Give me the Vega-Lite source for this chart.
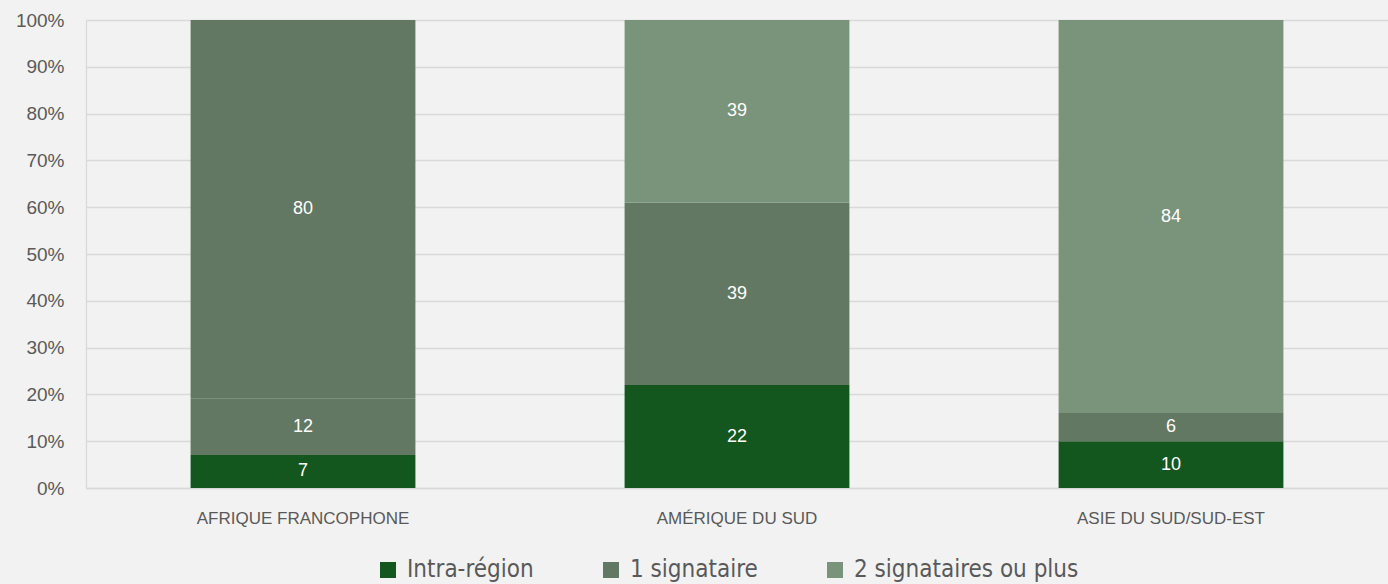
{
  "$schema": "https://vega.github.io/schema/vega-lite/v6.json",
  "width": 1302,
  "height": 468,
  "autosize": {"type": "none"},
  "padding": {"left": 86, "top": 20, "right": 0, "bottom": 96},
  "background": "#F2F2F2",
  "config": {
    "view": {"stroke": null},
    "font": "Liberation Sans",
    "axis": {"labelFont": "Liberation Sans", "labelColor": "#595959", "domainColor": "#D9D9D9", "gridColor": "#D9D9D9", "gridWidth": 1.3, "domainWidth": 1.3, "ticks": false, "tickSize": 0, "labelLimit": 0},
    "axisY": {"labelFontSize": 19, "labelPadding": 22, "grid": true},
    "axisX": {"labelFontSize": 17, "labelPadding": 22, "labelAngle": 0, "grid": false}
  },
  "data": {"values": [
    {"region": "AFRIQUE FRANCOPHONE", "serie": "Intra-région", "nombre": 7},
    {"region": "AFRIQUE FRANCOPHONE", "serie": "1 signataire", "nombre": 12},
    {"region": "AFRIQUE FRANCOPHONE", "serie": "2 signataires ou plus", "nombre": 80},
    {"region": "AMÉRIQUE DU SUD", "serie": "Intra-région", "nombre": 22},
    {"region": "AMÉRIQUE DU SUD", "serie": "1 signataire", "nombre": 39},
    {"region": "AMÉRIQUE DU SUD", "serie": "2 signataires ou plus", "nombre": 39},
    {"region": "ASIE DU SUD/SUD-EST", "serie": "Intra-région", "nombre": 10},
    {"region": "ASIE DU SUD/SUD-EST", "serie": "1 signataire", "nombre": 6},
    {"region": "ASIE DU SUD/SUD-EST", "serie": "2 signataires ou plus", "nombre": 84}
  ]},
  "transform": [
    {"calculate": "indexof(['Intra-région','1 signataire','2 signataires ou plus'], datum.serie)", "as": "rang"},
    {"stack": "nombre", "groupby": ["region"], "sort": [{"field": "rang", "order": "ascending"}], "offset": "normalize", "as": ["y0", "y1"]},
    {"calculate": "(datum.y0 + datum.y1) / 2", "as": "ymid"}
  ],
  "encoding": {
    "x": {
      "field": "region", "type": "nominal",
      "sort": ["AFRIQUE FRANCOPHONE", "AMÉRIQUE DU SUD", "ASIE DU SUD/SUD-EST"],
      "scale": {"paddingInner": 0.482, "paddingOuter": 0.241},
      "axis": {"title": null}
    }
  },
  "layer": [
    {
      "mark": {"type": "bar"},
      "encoding": {
        "y": {"field": "y0", "type": "quantitative", "scale": {"domain": [0, 1]}, "axis": {"title": null, "format": ".0%", "values": [0, 0.1, 0.2, 0.3, 0.4, 0.5, 0.6, 0.7, 0.8, 0.9, 1]}},
        "y2": {"field": "y1"},
        "color": {
          "condition": {"test": "datum.region === 'AFRIQUE FRANCOPHONE' && datum.serie === '2 signataires ou plus'", "value": "#627862"},
          "field": "serie", "type": "nominal",
          "scale": {"domain": ["Intra-région", "1 signataire", "2 signataires ou plus"], "range": ["#14571E", "#627862", "#7A937B"]},
          "legend": {
            "title": null, "orient": "none", "legendX": 290, "legendY": 538, "direction": "horizontal",
            "symbolType": "square", "symbolSize": 256, "symbolStrokeWidth": 0,
            "labelFont": "DejaVu Sans Condensed", "labelFontSize": 24, "labelColor": "#595959", "labelLimit": 0,
            "columnPadding": 65, "labelOffset": 7,
            "encode": {"symbols": {"update": {"fill": [{"test": "datum.value === '2 signataires ou plus'", "value": "#A0B2A0"}, {"scale": "color", "field": "value"}]}}}
          }
        }
      }
    },
    {
      "mark": {"type": "text", "color": "#FFFFFF", "fontSize": 18, "font": "Liberation Sans"},
      "encoding": {
        "y": {"field": "ymid", "type": "quantitative"},
        "text": {"field": "nombre", "type": "quantitative"}
      }
    }
  ]
}
